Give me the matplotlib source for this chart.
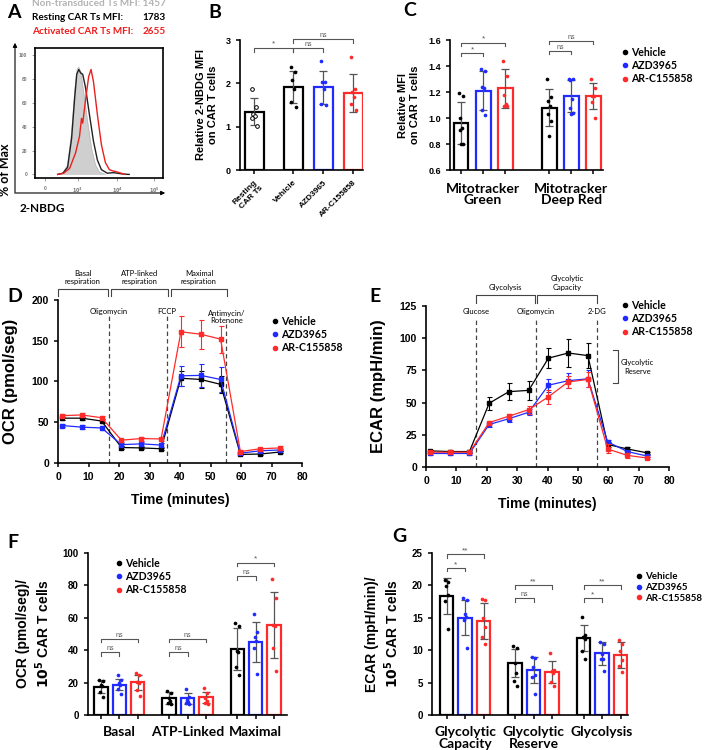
import numpy as np
import matplotlib
matplotlib.use('Agg')
import matplotlib.pyplot as plt
from matplotlib.lines import Line2D
from matplotlib.patches import FancyArrowPatch

plt.rcParams['font.family'] = ['Liberation Sans', 'DejaVu Sans']
plt.rcParams['font.weight'] = 'bold'
plt.rcParams['axes.labelweight'] = 'bold'
plt.rcParams['axes.linewidth'] = 1.2
CAL = 'Lato'   # calibri-ish text

W, H = 710, 750
TREATS = ['Vehicle', 'AZD3965', 'AR-C155858']
COLS = ['#000000', '#1f2bff', '#ff2b2b']
GREY = '#555555'

# ---------------- data ----------------
# A: histogram (x in display decades, 10^3 -> 3)
a_gray_x = [2.5, 2.63, 2.75, 2.85, 2.93, 2.99, 3.03, 3.08, 3.15, 3.25, 3.35, 3.45, 3.55, 3.7]
a_gray_y = [0, 1, 8, 35, 70, 88, 90, 86, 70, 45, 22, 8, 2, 0]
a_blk_x = [2.5, 2.63, 2.75, 2.85, 2.93, 2.98, 3.03, 3.08, 3.13, 3.2, 3.3, 3.4, 3.5, 3.6, 3.75, 3.9, 4.0, 4.15, 4.3]
a_blk_y = [0, 1, 6, 30, 65, 84, 88, 85, 84, 73, 50, 28, 12, 4, 1, 1.5, 1, 0.3, 0]
a_red_x = [2.5, 2.65, 2.8, 2.95, 3.05, 3.1, 3.13, 3.2, 3.28, 3.34, 3.4, 3.5, 3.6, 3.7, 3.8, 3.88, 3.95, 4.05, 4.2]
a_red_y = [0, 1, 5, 18, 32, 47, 43, 62, 82, 88, 78, 50, 25, 10, 4, 3, 2.5, 1.5, 0]
a_xticks = [2.18, 3, 4, 4.93]
a_xticklabels = ['0', '$10^3$', '$10^4$', '$10^5$']

# B
b_labels = ['Resting\nCAR Ts', 'Vehicle', 'AZD3965', 'AR-C155858']
b_mean = [1.35, 1.91, 1.91, 1.78]
b_sd = [0.31, 0.37, 0.38, 0.44]
b_pts = [[1.88, 1.46, 1.3, 1.24, 1.2, 1.02],
         [2.37, 2.27, 2.08, 1.88, 1.58, 1.45],
         [2.52, 2.04, 2.02, 1.88, 1.52, 1.5],
         [2.6, 1.86, 1.8, 1.69, 1.52, 1.38]]

# C
c_groups = ['Mitotracker\nGreen', 'Mitotracker\nDeep Red']
c_mean = [[0.96, 1.21, 1.23], [1.08, 1.17, 1.17]]
c_sd = [[0.16, 0.15, 0.15], [0.14, 0.12, 0.10]]
c_pts = [[[1.19, 1.17, 1.0, 0.92, 0.91, 0.8, 0.8],
          [1.375, 1.36, 1.24, 1.23, 1.06, 1.02],
          [1.44, 1.32, 1.18, 1.11, 1.09, 1.09]],
         [[1.3, 1.16, 1.13, 1.09, 1.03, 0.98, 0.86],
          [1.3, 1.3, 1.29, 1.15, 1.08, 1.04, 1.03],
          [1.3, 1.23, 1.17, 1.17, 1.12, 1.0]]]

# D / E time course
t_min = [1.3, 7.8, 14.3, 20.8, 27.3, 33.8, 40.3, 46.8, 53.3, 59.8, 66.3, 72.8]
ocr_mean = [[55, 55, 51.5, 19, 18.5, 17.5, 104, 102.5, 96.5, 10.5, 11, 13.5],
            [46, 44, 43, 22.5, 23.5, 22, 107, 107.5, 102.5, 12, 15, 16],
            [58, 59, 55.5, 28, 30, 29.5, 161, 158, 152, 14, 17.5, 18.5]]
ocr_err = [[2, 2, 2, 1.5, 1.5, 1.5, 9, 10, 10, 1, 1, 1],
           [1.5, 2.5, 3, 2, 2.5, 2, 12, 14.5, 15, 1.5, 1.5, 1.5],
           [2, 2.5, 2, 2, 2.5, 2.5, 19, 18, 16.5, 1.5, 1.5, 2]]
ecar_mean = [[12.5, 12, 12, 49.5, 58.5, 59.5, 84.5, 88.5, 86.5, 17.5, 14, 11],
             [10.5, 10.5, 10.5, 33, 37.5, 42.5, 63.5, 67, 68.5, 19.5, 12, 8.5],
             [11.5, 11.5, 11.5, 34.5, 39.5, 44.5, 54.5, 66, 68, 14, 9, 7]]
ecar_err = [[1, 1, 1, 5, 6.5, 7.5, 8, 10.5, 9.5, 2, 1.5, 1],
            [1, 1, 1, 2, 2.5, 2.5, 5, 6, 6.5, 1.5, 1.5, 1],
            [1, 1, 1, 1.5, 2, 3, 5.5, 5, 6, 3.5, 2, 1]]
ocr_injections = [(16.7, 'Oligomycin', 180), (35.8, 'FCCP', 180), (55.2, 'Antimycin/\nRotenone', 171)]
ecar_injections = [(16.4, 'Glucose', 116), (36.1, 'Oligomycin', 116), (56.4, '2-DG', 116)]

# F
f_groups = ['Basal', 'ATP-Linked', 'Maximal']
f_mean = [[17.5, 18.8, 20.1], [10.7, 10.3, 10.9], [40.7, 45.2, 55.4]]
f_sd = [[3.8, 3.6, 4.4], [3.7, 3.4, 3.2], [12.9, 12.4, 20.5]]
f_pts = [[[21.5, 21, 18.5, 18, 14.5, 11], [25, 21.6, 20, 18.5, 15.8, 12.7], [26, 25, 20.5, 20, 15.4, 11.7]],
         [[14.8, 13.8, 10.3, 8.6, 7.6, 6.8], [15.8, 11.3, 9.2, 8.2, 7.2, 6.8], [16.4, 13.3, 10.3, 8.8, 7.2, 6.8]],
         [[56.5, 54.8, 39.6, 39, 29.8, 24.6], [62.6, 51.3, 48.3, 45.8, 41.1, 25.3], [83.8, 72.5, 55.4, 55, 41.1, 27.3]]]

# G
g_groups = ['Glycolytic\nCapacity', 'Glycolytic\nReserve', 'Glycolysis']
g_mean = [[18.4, 15.0, 14.5], [8.0, 6.9, 6.7], [11.9, 9.5, 9.3]]
g_sd = [[2.8, 2.7, 2.8], [2.2, 2.0, 1.7], [2.0, 1.8, 2.0]]
g_pts = [[[20.8, 20.5, 19.9, 18.5, 17.6, 13.2], [18.1, 17.7, 15.6, 15.1, 14.6, 10.3], [17.9, 17.8, 15, 13.6, 12.1, 11]],
         [[10.7, 10.3, 8, 6.5, 5.3, 4.5], [8.9, 8.8, 7.4, 6.2, 5.9, 3.3], [9.6, 7, 6.8, 6.5, 5.1, 4.4]],
         [[15.2, 12.4, 12.1, 11.7, 9.9, 8.7], [11.3, 11, 9.4, 8.7, 8.6, 6.8], [11.5, 11, 9.9, 8.5, 7.6, 6.7]]]

JIT = [-0.13, 0.12, -0.04, 0.07, -0.1, 0.13, 0.0]

fig = plt.figure(figsize=(7.1, 7.5), dpi=100)


def add_ax(l, t, r, b):
    return fig.add_axes([l / W, 1 - b / H, (r - l) / W, (b - t) / H])


def ftext(x, y, s, **kw):
    fig.text(x / W, 1 - y / H, s, **kw)


def style(ax, fs=7):
    for s in ['top', 'right']:
        ax.spines[s].set_visible(False)
    ax.tick_params(direction='out', length=3, width=1.1, labelsize=fs)


def bars(ax, xs, mean, sd, pts, color, width, hollow=False):
    ax.bar(xs, mean, width, color='white', edgecolor=color, linewidth=1.6, zorder=2)
    ax.errorbar(xs, mean, yerr=sd, fmt='none', ecolor=GREY, elinewidth=0.9,
                capsize=3, capthick=0.9, zorder=3)
    px = xs + np.array(JIT[:len(pts)]) * width
    if hollow:
        ax.scatter(px, pts, s=7, facecolor='white', edgecolor=color, linewidth=0.7, zorder=4)
    else:
        ax.scatter(px, pts, s=7, color=color, zorder=4, linewidth=0)


def sig(ax, x1, x2, y, h, txt, fs=6):
    ax.plot([x1, x1, x2, x2], [y - h, y, y, y - h], color=GREY, lw=0.8, clip_on=False)
    ax.text((x1 + x2) / 2, y, txt, ha='center', va='bottom', color=GREY,
            fontsize=fs if txt != 'ns' else 5, fontweight='normal')


def legend_at(x, y, size=7.6):
    hs = [Line2D([], [], ls='none', marker='o', ms=3, color=c) for c in COLS]
    fig.legend(hs, TREATS, loc='upper left', bbox_to_anchor=(x / W, 1 - y / H),
               frameon=False, prop={'family': CAL, 'weight': 'bold', 'size': size},
               handlelength=0.5, handletextpad=0.35, labelspacing=0.2,
               borderpad=0, borderaxespad=0)


# ---------------- A ----------------
axA = add_ax(35, 48, 163, 178)
axA.fill_between(a_gray_x, a_gray_y, color='#cfcfcf', lw=0)
axA.plot(a_gray_x, a_gray_y, color='#bbbbbb', lw=0.6)
axA.plot(a_blk_x, a_blk_y, color='#222222', lw=1.0)
axA.plot(a_red_x, a_red_y, color='#e8201e', lw=1.0)
axA.set_xlim(1.93, 5.15)
axA.set_ylim(-3, 106)
axA.set_xticks(a_xticks)
axA.set_xticklabels(a_xticklabels)
axA.set_yticks([0, 20, 40, 60, 80, 100])
axA.tick_params(labelsize=3.5, length=2, width=0.5, colors='#777777', labelcolor='#777777')
for s in axA.spines.values():
    s.set_linewidth(1.2)
for a0, a1 in [((15, 196), (15, 40)), ((13, 193), (168, 193))]:
    fig.add_artist(FancyArrowPatch((a0[0] / W, 1 - a0[1] / H), (a1[0] / W, 1 - a1[1] / H),
                                   transform=fig.transFigure, arrowstyle='-|>',
                                   mutation_scale=6, lw=0.8, color='k'))
ftext(5, 170, '% of Max', rotation=90, ha='center', va='center', family=CAL, fontsize=9)
ftext(20, 208, '2-NBDG', ha='left', va='center', family=CAL, fontsize=8.5)
ftext(32, 4, 'Non-transduced Ts MFI: 1457', ha='left', va='center', family=CAL, fontsize=7.2, color='#b3b3b3')
ftext(32, 18, 'Resting CAR Ts MFI:', ha='left', va='center', family=CAL, fontsize=7.2)
ftext(166, 18, '1783', ha='right', va='center', family=CAL, fontsize=7.2)
ftext(32, 32, 'Activated CAR Ts MFI:', ha='left', va='center', family=CAL, fontsize=7.2, color='#ee1c1c')
ftext(166, 32, '2655', ha='right', va='center', family=CAL, fontsize=7.2, color='#ee1c1c')

# ---------------- B ----------------
axB = add_ax(240, 40, 363, 170)
style(axB, 6.5)
b_x = np.array([0, 1.3, 2.3, 3.3])
b_cols = ['#000000'] + COLS
for i in range(4):
    bars(axB, b_x[i], b_mean[i], b_sd[i], b_pts[i], b_cols[i], 0.63, hollow=(i == 0))
axB.set_xlim(-0.47, 3.63)
axB.set_ylim(0, 3)
axB.set_yticks([0, 1, 2, 3])
axB.set_xticks(b_x)
axB.set_xticklabels(b_labels, rotation=45, ha='right', rotation_mode='anchor', fontsize=6)
axB.set_ylabel('Relative 2-NBDG MFI\non CAR T cells', fontsize=8, labelpad=6)
sig(axB, 0, 1.3, 2.82, 0.09, '*')
sig(axB, 1.3, 2.3, 2.82, 0.09, 'ns')
sig(axB, 1.3, 3.3, 3.02, 0.09, 'ns')

# ---------------- C ----------------
axC = add_ax(450, 40, 603, 170)
style(axC, 6.5)
c_x = []
for g in range(2):
    for k in range(3):
        xx = g * 4 + k
        c_x.append(xx)
        bars(axC, xx, c_mean[g][k], c_sd[g][k], c_pts[g][k], COLS[k], 0.68)
axC.set_xlim(-0.5, 6.45)
axC.set_ylim(0.6, 1.6)
axC.set_yticks([0.6, 0.8, 1.0, 1.2, 1.4, 1.6])
axC.set_yticklabels(['0.6', '0.8', '1.0', '1.2', '1.4', '1.6'])
axC.set_xticks(c_x)
axC.set_xticklabels([])
for g in range(2):
    axC.text(g * 4 + 1, -0.1, c_groups[g], transform=axC.get_xaxis_transform(),
             ha='center', va='top', family=CAL, fontsize=10, linespacing=0.95)
axC.set_ylabel('Relative MFI\non CAR T cells', fontsize=8, labelpad=6)
sig(axC, 0, 1, 1.50, 0.025, '*')
sig(axC, 0, 2, 1.58, 0.025, '*')
sig(axC, 4, 5, 1.515, 0.025, 'ns')
sig(axC, 4, 6, 1.595, 0.025, 'ns')
legend_at(622, 47)

# ---------------- D / E ----------------
def time_panel(ax, means, errs, ymax, ystep):
    style(ax, 7.5)
    for k in range(3):
        ax.errorbar(t_min, means[k], yerr=errs[k], color=COLS[k], marker='s', ms=2.5,
                    lw=0.9, elinewidth=0.8, capsize=1.8, capthick=0.8, zorder=3 + (k == 2))
    ax.set_xlim(0, 80)
    ax.set_ylim(0, ymax)
    ax.set_xticks(range(0, 81, 10))
    ax.set_yticks(np.arange(0, ymax + 1, ystep))
    ax.set_xlabel('Time (minutes)', fontsize=10, labelpad=8)


def top_bracket(ax, x1, x2, y, h, txt, ty):
    ax.plot([x1, x1, x2, x2], [y - h, y, y, y - h], color='#444444', lw=0.8, clip_on=False)
    ax.text((x1 + x2) / 2, ty, txt, ha='center', va='bottom', family=CAL,
            fontsize=5.5, fontweight='normal', linespacing=1.3)


axD = add_ax(58, 300, 302, 463)
time_panel(axD, ocr_mean, ocr_err, 200, 50)
axD.set_ylabel('OCR (pmol/seg)', fontsize=12, labelpad=10)
for x, lab, top in ocr_injections:
    axD.vlines(x, 0, top, color='#444444', lw=0.9, linestyles=(0, (3.5, 2.5)))
    axD.text(x, 182 if '\n' not in lab else 170, lab, ha='center', va='bottom',
             family=CAL, fontsize=5.5, fontweight='normal', linespacing=1.1)
top_bracket(axD, 0, 16.3, 213.5, 9, 'Basal\nrespiration', 218)
top_bracket(axD, 17.4, 36.1, 213.5, 9, 'ATP-linked\nrespiration', 218)
top_bracket(axD, 37.1, 55.3, 213.5, 9, 'Maximal\nrespiration', 218)
legend_at(272, 316)

axE = add_ax(426, 306, 669, 467)
time_panel(axE, ecar_mean, ecar_err, 125, 25)
axE.set_ylabel('ECAR (mpH/min)', fontsize=12, labelpad=10)
for x, lab, top in ecar_injections:
    axE.vlines(x, 0, top, color='#444444', lw=0.9, linestyles=(0, (3.5, 2.5)))
    axE.text(x, 118, lab, ha='center', va='bottom', family=CAL, fontsize=5.5, fontweight='normal')
top_bracket(axE, 16.6, 35.8, 133.5, 6, 'Glycolysis', 137)
top_bracket(axE, 36.4, 56.4, 133.5, 6, 'Glycolytic\nCapacity', 137)
axE.plot([61.5, 63.2, 63.2, 61.5], [90.5, 90.5, 65, 65], color='#444444', lw=0.8, clip_on=False)
axE.text(69.5, 77.5, 'Glycolytic\nReserve', ha='center', va='center', family=CAL,
         fontsize=5.5, fontweight='normal', linespacing=1.3)
legend_at(622, 300)

# ---------------- F / G ----------------
def group_panel(ax, means, sds, pts, groups, ymax, ystep, xlim):
    style(ax, 7)
    xs = []
    for g in range(3):
        for k in range(3):
            xx = g * 3.7 + k
            xs.append(xx)
            bars(ax, xx, means[g][k], sds[g][k], pts[g][k], COLS[k], 0.72)
    ax.set_xlim(*xlim)
    ax.set_ylim(0, ymax)
    ax.set_yticks(np.arange(0, ymax + 0.1, ystep))
    ax.set_xticks(xs)
    ax.set_xticklabels([])
    for g in range(3):
        ax.text(g * 3.7 + 1, -0.07, groups[g], transform=ax.get_xaxis_transform(),
                ha='center', va='top', family=CAL, fontsize=10, linespacing=0.95)


axF = add_ax(88, 553, 287, 715)
group_panel(axF, f_mean, f_sd, f_pts, f_groups, 100, 20, (-0.71, 10.11))
axF.set_ylabel('OCR (pmol/seg)/\n$\\mathbf{10^5}$ CAR T cells', fontsize=10, labelpad=8)
for g in range(2):
    b = g * 3.7
    sig(axF, b, b + 1, 38.6, 2, 'ns')
    sig(axF, b, b + 2, 47.2, 2, 'ns')
sig(axF, 7.4, 8.4, 85.6, 2, 'ns')
sig(axF, 7.4, 9.4, 94, 2, '*')
legend_at(116, 558)

axG = add_ax(432, 553, 628, 715)
group_panel(axG, g_mean, g_sd, g_pts, g_groups, 25, 5, (-0.79, 9.8))
axG.set_ylabel('ECAR (mpH/min)/\n$\\mathbf{10^5}$ CAR T cells', fontsize=10, labelpad=8)
sig(axG, 0, 1, 22.7, 0.5, '*')
sig(axG, 0, 2, 24.8, 0.5, '**')
sig(axG, 3.7, 4.7, 18, 0.5, 'ns')
sig(axG, 3.7, 5.7, 20, 0.5, '**')
sig(axG, 7.4, 8.4, 18, 0.5, '*')
sig(axG, 7.4, 9.4, 20, 0.5, '**')
legend_at(637, 572, size=7.0)

# panel letters
for lt, x, y in [('A', 7, 13), ('B', 208, 13), ('C', 403, 11), ('D', 7, 296),
                 ('E', 369, 296), ('F', 7, 543), ('G', 392, 536)]:
    ftext(x, y, lt, ha='left', va='center', family=CAL, fontsize=14)

fig.savefig('out.png', dpi=100)
